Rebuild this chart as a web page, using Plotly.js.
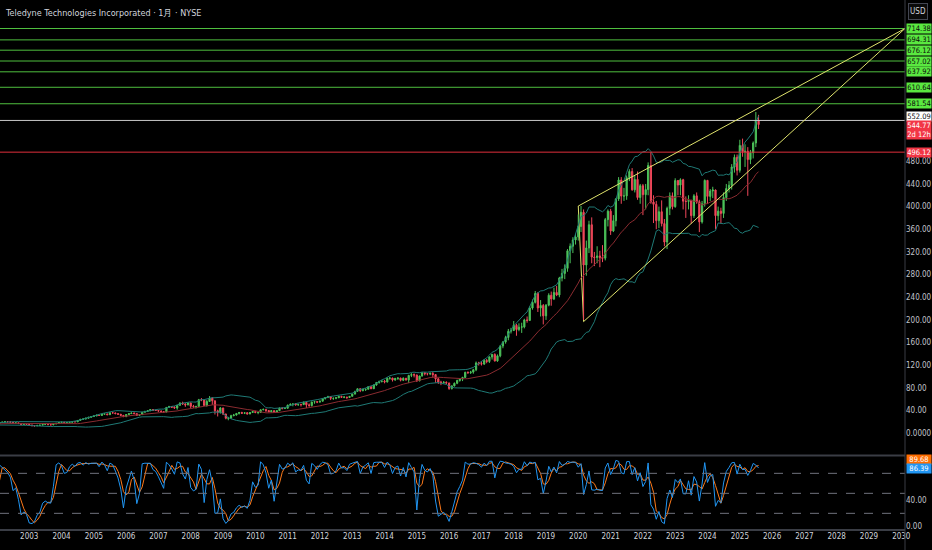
<!DOCTYPE html>
<html><head><meta charset="utf-8">
<script src="https://cdn.plot.ly/plotly-3.0.1.min.js"></script>
<style>html,body{margin:0;padding:0;background:#000;}#chart{width:932px;height:550px;}</style>
</head><body><div id="chart"></div>
<script>
// Monthly bars, first bar = 2000-07
const startYear = 2000, startMonth = 7;
const openP = [
13.8,14.5,15.8,17.0,17.5,17.9,
15.8,16.5,17.2,16.8,17.5,16.9,16.8,15.9,16.4,15.2,15.0,15.5,
16.3,17.5,18.8,19.6,20.2,20.0,19.5,18.0,18.3,17.0,15.3,15.8,
15.5,14.5,13.2,12.9,13.8,14.2,15.3,15.5,15.0,14.6,16.2,17.4,
18.9,19.5,18.6,18.7,19.4,20.2,20.0,22.5,24.6,25.0,26.5,28.0,
29.4,30.5,31.8,31.3,33.5,34.0,32.6,36.0,35.8,34.5,33.5,31.5,
29.1,33.0,34.5,35.6,34.5,31.5,32.8,37.0,38.5,39.6,41.8,40.5,
40.1,39.0,37.8,37.4,45.5,47.0,45.9,44.5,49.3,53.4,51.5,50.0,
53.4,47.5,46.5,47.0,59.0,58.5,48.9,56.0,62.0,57.2,39.5,37.0,
44.5,33.8,26.5,26.7,31.0,32.0,34.9,36.5,35.2,36.0,34.0,36.5,
38.4,36.5,36.6,41.3,42.0,40.0,37.7,39.8,37.0,39.8,44.5,43.8,
44.0,49.5,51.0,51.7,50.0,50.5,50.4,54.4,50.0,48.9,55.0,55.5,
54.9,56.5,61.0,63.0,64.5,61.5,61.7,62.5,65.0,63.4,63.8,63.0,
65.1,69.0,74.0,78.4,75.0,77.0,77.6,82.0,78.5,85.0,89.5,91.5,
91.9,90.5,97.0,97.3,94.0,96.5,97.2,93.5,97.0,94.0,102.0,103.5,
102.7,92.5,101.0,106.7,105.0,104.5,105.5,103.5,96.0,90.3,89.0,89.8,
88.7,79.0,83.5,88.1,93.0,95.5,98.5,107.5,107.0,107.9,112.0,124.0,
123.0,122.0,128.5,126.5,134.5,139.0,127.6,136.5,154.0,161.0,169.0,180.0,
181.2,190.5,183.0,187.2,187.6,200.0,199.1,221.0,231.0,246.7,221.0,225.5,
207.1,226.0,243.5,237.0,248.5,244.0,273.9,282.0,291.0,322.0,330.0,341.0,
346.5,365,390,297,327,368,311,310,313,310,309,377,
392,357,375,413.6,447,418.5,418.9,451,462,429.6,448,416,
436.9,421,430,472.6,408,404,375.1,391,370,337.5,397,419,
399.9,446,438,447.4,409.6,409,411.1,384,419,408.6,373,405,
446.3,418,427.5,429.3,384,392,388,416,432,437.7,470,487,
464.1,508,497,497.7,483,495,512.3,552];
const highP = [
15.2,16.5,18.0,18.6,19.0,18.2,
17.5,18.0,17.8,18.2,18.0,17.4,17.0,17.0,16.6,15.9,16.2,16.9,
18.0,19.2,20.3,21.4,21.0,20.8,20.0,19.0,18.8,17.4,16.5,16.4,
16.0,14.9,13.8,14.3,14.9,15.6,16.3,16.0,15.6,16.5,17.8,19.2,
20.2,19.8,19.2,20.0,20.7,20.6,22.9,25.0,25.9,27.0,28.9,30.1,
31.2,32.5,32.8,34.0,35.2,34.5,36.8,37.0,36.2,35.0,34.0,31.8,
33.5,35.0,36.3,36.5,35.2,33.4,37.5,39.0,40.2,42.5,42.2,41.4,
41.0,40.2,38.6,46.0,48.3,48.0,47.5,49.8,54.2,55.6,53.0,54.5,
54.0,50.0,48.5,60.5,62.0,59.0,58.5,65.5,63.5,57.5,41.5,46.0,
45.0,34.5,28.8,32.5,34.0,35.5,37.5,37.8,37.2,37.4,37.0,39.0,
39.5,37.8,41.8,43.5,43.0,40.8,40.5,40.3,40.5,45.3,45.5,45.2,
50.3,52.5,52.0,53.0,52.2,52.0,56.0,55.0,52.5,55.8,57.0,56.5,
57.5,61.6,63.8,66.0,65.0,62.5,63.8,66.0,66.0,65.0,64.2,65.6,
69.8,74.6,78.9,79.2,78.5,79.0,83.0,83.2,86.0,90.5,92.5,93.0,
94.0,98.0,99.5,98.0,97.8,99.0,98.0,98.5,97.5,103.0,106.0,105.5,
103.5,101.5,108.0,107.5,106.0,107.5,108.0,104.0,97.0,92.5,92.0,91.5,
89.0,84.5,89.5,94.5,97.0,99.5,108.5,109.0,110.0,113.5,126.5,126.0,
127.5,131.0,131.0,135.5,140.0,141.0,139.0,155.0,162.5,172.0,184.0,186.0,
198.0,193.0,194.0,195.0,202.0,206.0,224.0,236.0,251.0,249.0,235.0,228.0,
228.0,247.0,250.0,257.0,260.0,276.0,290.0,298.0,325.0,335.0,346.0,352.0,
386,401,395,340,375,381,320,330,322,332,380,395,
396,385,415,452,452,433,455,466,468,455,462,440,
440,440,478,496,420,410,400,411,378,400,425,425,
450,447,450,449,418,420,412,422,425,412,410,448,
447,431,435,430,400,398,425,440,445,475,492,492,
518,520,510,505,500,515,567,562];
const lowP = [
13.2,14.0,15.2,16.0,16.5,15.2,
15.2,16.0,15.8,16.2,16.3,16.1,15.2,15.5,14.0,14.4,14.6,15.1,
16.0,17.2,18.5,19.2,19.4,18.9,16.2,17.3,16.7,14.2,14.9,14.9,
14.1,12.8,12.2,12.7,13.5,14.1,14.8,14.6,14.2,14.4,15.9,17.2,
18.5,18.2,17.8,18.4,19.0,19.6,19.8,22.0,24.0,24.4,26.0,27.5,
28.8,30.0,30.4,30.6,32.8,31.9,32.2,34.9,33.6,32.4,30.6,28.6,
29.0,32.4,34.0,33.6,30.8,30.5,32.2,36.2,37.5,39.0,39.6,39.3,
38.2,36.8,36.0,37.0,44.8,45.0,43.0,41.5,48.5,50.2,46.5,49.2,
44.0,45.0,43.5,46.5,56.5,48.5,47.0,55.2,50.0,33.0,29.5,34.5,
32.0,24.5,22.8,25.5,29.8,31.2,33.0,34.0,33.8,33.0,33.5,35.8,
35.2,33.5,36.2,40.5,37.0,37.0,36.8,36.2,36.4,39.2,42.0,42.8,
43.5,48.5,47.5,49.0,48.5,47.0,49.8,44.5,46.5,47.0,52.0,53.0,
54.0,56.0,59.5,62.0,58.5,58.8,60.0,62.0,62.5,61.8,60.3,62.5,
64.8,68.6,73.0,72.5,74.0,74.5,77.5,77.8,78.0,83.8,87.5,89.5,
88.0,89.5,94.5,91.2,92.5,94.0,91.5,92.0,92.8,88.5,99.0,98.5,
90.5,91.5,99.8,102.0,102.0,102.5,98.0,89.0,87.0,84.8,87.5,86.5,
76.5,77.0,82.5,86.5,91.0,92.0,97.5,104.5,104.5,105.0,109.5,119.5,
119.5,120.5,123.5,124.0,130.0,126.5,126.0,134.0,150.0,158.0,164.0,176.0,
180.5,172.0,180.0,177.0,185.0,195.0,198.0,218.0,229.0,214.0,206.0,192.0,
200.0,224.0,225.0,235.0,242.0,240.0,268.0,272.0,285.0,300.0,318.0,333.0,
340,355,200,278,318,300,295,300,293,302,305,365,
350,355,365,410,405,410,412,445,428,425,412,405,
385,395,420,405,371,360,362,365,330,325,385,395,
398,420,420,395,380,395,370,380,405,355,370,400,
405,410,415,360,375,370,380,410,425,430,460,455,
460,488,470,419,475,485,505,537];
const closeP = [
14.5,15.8,17.0,17.5,17.9,15.8,
16.5,17.2,16.8,17.5,16.9,16.8,15.9,16.4,15.2,15.0,15.5,16.3,
17.5,18.8,19.6,20.2,20.0,19.5,18.0,18.3,17.0,15.3,15.8,15.5,
14.5,13.2,12.9,13.8,14.2,15.3,15.5,15.0,14.6,16.2,17.4,18.9,
19.5,18.6,18.7,19.4,20.2,20.0,22.5,24.6,25.0,26.5,28.0,29.4,
30.5,31.8,31.3,33.5,34.0,32.6,36.0,35.8,34.5,33.5,31.5,29.1,
33.0,34.5,35.6,34.5,31.5,32.8,37.0,38.5,39.6,41.8,40.5,40.1,
39.0,37.8,37.4,45.5,47.0,45.9,44.5,49.3,53.4,51.5,50.0,53.4,
47.5,46.5,47.0,59.0,58.5,48.9,56.0,62.0,57.2,39.5,37.0,44.5,
33.8,26.5,26.7,31.0,32.0,34.9,36.5,35.2,36.0,34.0,36.5,38.4,
36.5,36.6,41.3,42.0,40.0,37.7,39.8,37.0,39.8,44.5,43.8,44.0,
49.5,51.0,51.7,50.0,50.5,50.4,54.4,50.0,48.9,55.0,55.5,54.9,
56.5,61.0,63.0,64.5,61.5,61.7,62.5,65.0,63.4,63.8,63.0,65.1,
69.0,74.0,78.4,75.0,77.0,77.6,82.0,78.5,85.0,89.5,91.5,91.9,
90.5,97.0,97.3,94.0,96.5,97.2,93.5,97.0,94.0,102.0,103.5,102.7,
92.5,101.0,106.7,105.0,104.5,105.5,103.5,96.0,90.3,89.0,89.8,88.7,
79.0,83.5,88.1,93.0,95.5,98.5,107.5,107.0,107.9,112.0,124.0,123.0,
122.0,128.5,126.5,134.5,139.0,127.6,136.5,154.0,161.0,169.0,180.0,181.2,
190.5,183.0,187.2,187.6,200.0,199.1,221.0,231.0,246.7,221.0,225.5,207.1,
226.0,243.5,237.0,248.5,244.0,273.9,282.0,291.0,322.0,330.0,341.0,346.5,
365,390,297,327,368,311,310,313,310,309,377,392,
357,375,413.6,447,418.5,418.9,451,462,429.6,448,416,436.9,
421,430,472.6,408,404,375.1,391,370,337.5,397,419,399.9,
446,438,447.4,409.6,409,411.1,384,419,408.6,373,405,446.3,
418,427.5,429.3,384,392,388,416,432,437.7,470,487,464.1,
508,497,497.7,483,495,512.3,552,544.77];

// Horizontal levels drawn on the chart
const greenLevels = [714.38, 694.31, 676.12, 657.02, 637.92, 610.64, 581.54];
const whiteLevel = 552.09;
const lastPrice = 544.77;
const lastCountdown = '2d 12h';
const redLevel = 496.12;
// Wedge drawing anchor points
const wedgeUpper = [['2020-01-01', 401], ['2030-02-12', 714.38]];
const wedgeLower = [['2020-03-01', 197], ['2030-02-12', 714.38]];
// Stochastic last values shown on the scale
const stochD_last = 89.68, stochK_last = 86.39;
// Axis ticks
const priceTicks = [0, 40, 80, 120, 160, 200, 240, 280, 320, 360, 400, 440, 480];
const stochTicks = [0, 40];
const yearTicks = [];
for (let y = 2003; y <= 2030; y++) yearTicks.push(y);

const dates = closeP.map((_, i) => {
  const t = startMonth - 1 + i;
  const y = startYear + Math.floor(t / 12), m = t % 12 + 1;
  return y + '-' + String(m).padStart(2, '0') + '-01';
});

// Bollinger Bands (20, 2)
const bbMid = [], bbUp = [], bbLo = [];
for (let i = 0; i < closeP.length; i++) {
  if (i < 19) { bbMid.push(null); bbUp.push(null); bbLo.push(null); continue; }
  const w = closeP.slice(i - 19, i + 1);
  const mean = w.reduce((a, b) => a + b, 0) / 20;
  const sd = Math.sqrt(w.reduce((a, b) => a + (b - mean) * (b - mean), 0) / 20);
  bbMid.push(mean); bbUp.push(mean + 2 * sd); bbLo.push(mean - 2 * sd);
}
// Stochastic (14, 1, 3)
const stK = [], stD = [];
for (let i = 0; i < closeP.length; i++) {
  if (i < 13) { stK.push(null); continue; }
  const hh = Math.max(...highP.slice(i - 13, i + 1));
  const ll = Math.min(...lowP.slice(i - 13, i + 1));
  stK.push(100 * (closeP[i] - ll) / (hh - ll));
}
for (let i = 0; i < stK.length; i++) {
  if (i < 15 || stK[i - 2] == null) { stD.push(null); continue; }
  stD.push((stK[i] + stK[i - 1] + stK[i - 2]) / 3);
}

const FONT = 'DejaVu Sans Condensed, Liberation Sans Narrow, sans-serif';
const traces = [
  {type: 'scatter', mode: 'lines', x: dates, y: bbUp, line: {color: '#1f7a76', width: 1}, hoverinfo: 'skip', xaxis: 'x', yaxis: 'y'},
  {type: 'scatter', mode: 'lines', x: dates, y: bbLo, line: {color: '#1f7a76', width: 1}, hoverinfo: 'skip', xaxis: 'x', yaxis: 'y'},
  {type: 'scatter', mode: 'lines', x: dates, y: bbMid, line: {color: '#8a2b30', width: 1}, hoverinfo: 'skip', xaxis: 'x', yaxis: 'y'},
  {type: 'candlestick', x: dates, open: openP, high: highP, low: lowP, close: closeP,
   increasing: {line: {color: '#4cc25a', width: 1}, fillcolor: '#4cc25a'},
   decreasing: {line: {color: '#f0475a', width: 1}, fillcolor: '#f0475a'},
   whiskerwidth: 0, hoverinfo: 'skip', xaxis: 'x', yaxis: 'y'},
  {type: 'scatter', mode: 'lines', x: dates, y: stD, line: {color: '#ff7a1a', width: 1}, hoverinfo: 'skip', xaxis: 'x', yaxis: 'y2'},
  {type: 'scatter', mode: 'lines', x: dates, y: stK, line: {color: '#2196f3', width: 1}, hoverinfo: 'skip', xaxis: 'x', yaxis: 'y2'}
];

const shapes = [];
greenLevels.forEach(v => shapes.push({type: 'line', xref: 'paper', x0: 0, x1: 1, yref: 'y', y0: v, y1: v, line: {color: '#4fbf3f', width: 1}}));
shapes.push({type: 'line', xref: 'paper', x0: 0, x1: 1, yref: 'y', y0: whiteLevel, y1: whiteLevel, line: {color: '#c8c8c8', width: 1}});
shapes.push({type: 'line', xref: 'paper', x0: 0, x1: 1, yref: 'y', y0: redLevel, y1: redLevel, line: {color: '#e02f3c', width: 1}});
[wedgeUpper, wedgeLower].forEach(p => shapes.push({type: 'line', xref: 'x', yref: 'y', x0: p[0][0], y0: p[0][1], x1: p[1][0], y1: p[1][1], line: {color: '#dfe36c', width: 1}}));
shapes.push({type: 'line', layer: 'below', xref: 'x', yref: 'y', x0: wedgeUpper[0][0], y0: wedgeUpper[0][1], x1: wedgeLower[0][0], y1: wedgeLower[0][1], line: {color: '#dfe36c', width: 1}});
[80, 50, 20].forEach(v => shapes.push({type: 'line', xref: 'paper', x0: 0, x1: 1, yref: 'y2', y0: v, y1: v, line: {color: '#6f727c', width: 1, dash: 'dash'}}));
// pane separators and price-scale border
shapes.push({type: 'line', xref: 'paper', x0: 0, x1: 1, yref: 'paper', y0: 0.1405, y1: 0.1405, line: {color: '#3a3d45', width: 2}});
shapes.push({type: 'line', xref: 'paper', x0: 0, x1: 1, yref: 'paper', y0: 0, y1: 0, line: {color: '#3a3d45', width: 2}});
shapes.push({type: 'line', xref: 'paper', x0: 1, x1: 1, yref: 'paper', y0: -0.04, y1: 1.0, line: {color: '#3a3d45', width: 1}});

const ann = [];
function priceLabel(v, text, bg, fg, yref, yshift, h) {
  ann.push({xref: 'paper', x: 1, xanchor: 'left', xshift: 1, yref: yref, y: v, yanchor: 'middle', yshift: yshift || 0,
    text: text, showarrow: false, bgcolor: bg, width: 24, height: h || 9, borderpad: 0, align: 'center',
    font: {family: FONT, size: 7.5, color: fg}});
}
greenLevels.forEach(v => priceLabel(v, v.toFixed(2), '#5ae840', '#0b0b0b', 'y', 0));
priceLabel(whiteLevel, whiteLevel.toFixed(2), '#ffffff', '#111111', 'y', 4);
priceLabel(lastPrice, lastPrice.toFixed(2) + '<br>' + lastCountdown, '#f23645', '#ffffff', 'y', -5, 18);
priceLabel(redLevel, redLevel.toFixed(2), '#f23645', '#ffffff', 'y', 0);
priceLabel(stochD_last, stochD_last.toFixed(2), '#ff6d00', '#ffffff', 'y2', 7.4);
priceLabel(stochK_last, stochK_last.toFixed(2), '#2196f3', '#ffffff', 'y2', 1);
ann.push({xref: 'paper', x: 0, xanchor: 'left', xshift: 3, yref: 'paper', y: 0.976, yanchor: 'middle',
  text: 'Teledyne Technologies Incorporated · 1月 · NYSE', showarrow: false,
  font: {family: FONT, size: 9, color: '#d1d4dc'}});
ann.push({xref: 'paper', x: 1, xanchor: 'left', xshift: 3, yref: 'paper', y: 0.9945, yanchor: 'top',
  text: 'USD', showarrow: false, bgcolor: '#0a0a0a', bordercolor: '#434651', borderwidth: 1, width: 18, height: 15, borderpad: 0,
  font: {family: FONT, size: 8, color: '#d1d4dc'}});

const layout = {
  width: 932, height: 550,
  margin: {l: 0, r: 27, t: 0, b: 20},
  paper_bgcolor: '#000000', plot_bgcolor: '#000000',
  showlegend: false, dragmode: false, hovermode: false,
  xaxis: {type: 'date', range: ['2002-02-04', '2030-02-12'], anchor: 'y2', showgrid: false, zeroline: false, showline: false,
    rangeslider: {visible: false}, tickvals: yearTicks.map(y => y + '-01-01'), ticktext: yearTicks.map(String), ticks: '',
    tickfont: {family: FONT, size: 8, color: '#d1d4dc'}},
  yaxis: {domain: [0.1415, 1], range: [-38.5, 764.7], side: 'right', showgrid: false, zeroline: false, showline: false,
    tickvals: priceTicks, ticktext: priceTicks.map(v => v === 0 ? '0.0000' : v.toFixed(2)), ticks: '',
    tickfont: {family: FONT, size: 8, color: '#c0c3cb'}, fixedrange: true},
  yaxis2: {domain: [0, 0.1396], range: [-5, 106], side: 'right', showgrid: false, zeroline: false, showline: false,
    tickvals: stochTicks, ticktext: stochTicks.map(v => v.toFixed(2)), ticks: '',
    tickfont: {family: FONT, size: 8, color: '#c0c3cb'}, fixedrange: true},
  shapes: shapes, annotations: ann
};
Plotly.newPlot('chart', traces, layout, {staticPlot: true, displayModeBar: false});
</script></body></html>
